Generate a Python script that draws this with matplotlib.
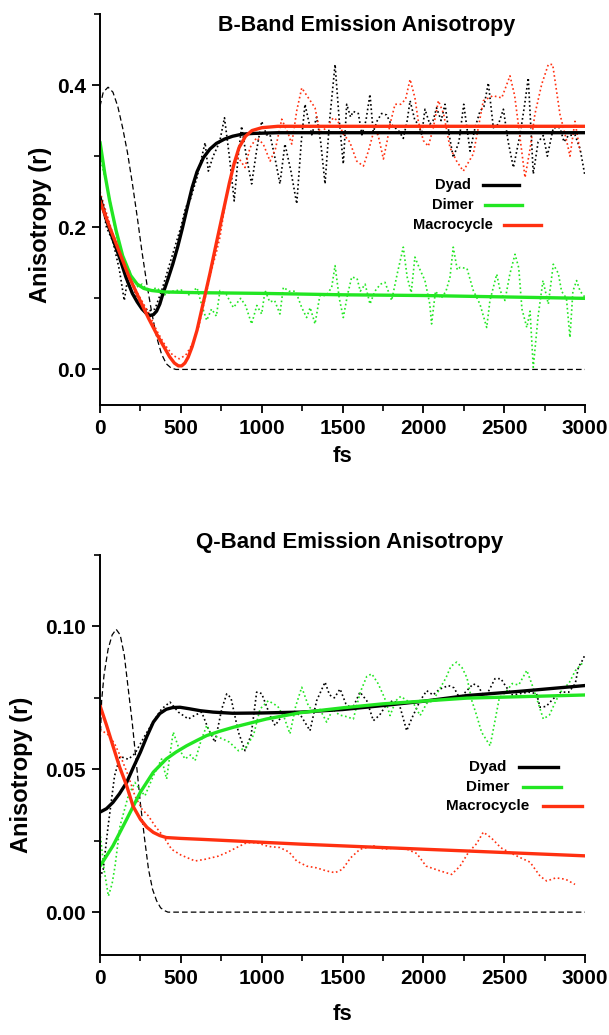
import matplotlib
matplotlib.use('Agg')
import matplotlib.pyplot as plt
from matplotlib.ticker import MultipleLocator, FormatStrFormatter

plt.rcParams['font.family'] = ['Liberation Sans', 'DejaVu Sans']
plt.rcParams['font.weight'] = 'bold'

BLACK, GREEN, RED = '#000000', '#22e622', '#ff3010'

# ---------------- B-band (top) ----------------
b_irf_t = [0, 20, 50, 80, 110, 140, 170, 200, 230, 260, 290, 320, 350, 380, 410, 440, 470, 500, 3000]
b_irf_v = [0.37, 0.39, 0.397, 0.39, 0.37, 0.34, 0.305, 0.262, 0.215, 0.165, 0.12, 0.08, 0.046,
           0.022, 0.008, 0.002, 0.0, 0.0, 0.0]

b_dyad_fit_t = [0, 40, 80, 120, 160, 200, 230, 260, 290, 310, 330, 350, 370, 390, 420, 450, 480,
                510, 540, 570, 600, 640, 680, 720, 770, 820, 880, 950, 1100, 3000]
b_dyad_fit_v = [0.242, 0.21, 0.183, 0.158, 0.13, 0.107, 0.095, 0.085, 0.078, 0.076, 0.077, 0.082,
                0.092, 0.107, 0.127, 0.148, 0.172, 0.199, 0.228, 0.256, 0.278, 0.298, 0.31, 0.318,
                0.324, 0.328, 0.331, 0.332, 0.333, 0.333]

b_dimer_fit_t = [0, 30, 60, 100, 140, 190, 230, 270, 320, 400, 600, 1000, 1500, 2000, 2500, 3000]
b_dimer_fit_v = [0.32, 0.275, 0.237, 0.195, 0.16, 0.132, 0.12, 0.114, 0.111, 0.109, 0.108, 0.107,
                 0.105, 0.104, 0.102, 0.1]

b_macro_fit_t = [0, 60, 120, 180, 250, 300, 350, 400, 430, 460, 485, 505, 525, 545, 570, 600, 640,
                 680, 720, 760, 800, 830, 860, 900, 940, 1000, 1100, 3000]
b_macro_fit_v = [0.237, 0.2, 0.165, 0.13, 0.096, 0.072, 0.05, 0.03, 0.018, 0.009, 0.005, 0.005,
                 0.009, 0.017, 0.032, 0.055, 0.095, 0.135, 0.178, 0.22, 0.262, 0.29, 0.312, 0.328,
                 0.336, 0.34, 0.342, 0.342]

b_dyad_t = [0, 40, 80, 120, 150, 180, 220, 260, 300, 340, 380, 420, 460, 500, 530, 560, 600, 650,
            670, 700, 740, 770, 800, 830, 855, 876, 905, 938, 970, 1000, 1030, 1052, 1080, 1113,
            1144, 1180, 1217, 1245, 1268, 1290, 1310, 1340, 1365, 1392, 1420, 1454, 1480, 1505,
            1526, 1550, 1566, 1598, 1620, 1645, 1670, 1690, 1715, 1742, 1773, 1800, 1825, 1850,
            1876, 1900, 1918, 1948, 1970, 1990, 2010, 2040, 2060, 2082, 2110, 2134, 2160, 2185,
            2220, 2250, 2289, 2320, 2350, 2375, 2402, 2433, 2465, 2495, 2525, 2557, 2598, 2625,
            2649, 2680, 2710, 2742, 2767, 2804, 2845, 2870, 2897, 2938, 2970, 3000]
b_dyad_v = [0.25, 0.2, 0.18, 0.14, 0.097, 0.14, 0.105, 0.09, 0.082, 0.085, 0.11, 0.14, 0.17, 0.2,
            0.228, 0.24, 0.27, 0.319, 0.279, 0.30, 0.32, 0.354, 0.3, 0.237, 0.3, 0.342, 0.3, 0.261,
            0.31, 0.349, 0.33, 0.33, 0.3, 0.261, 0.317, 0.28, 0.233, 0.32, 0.373, 0.35, 0.33,
            0.355, 0.32, 0.261, 0.35, 0.429, 0.35, 0.289, 0.373, 0.355, 0.363, 0.36, 0.33, 0.35,
            0.387, 0.334, 0.35, 0.36, 0.358, 0.345, 0.34, 0.335, 0.325, 0.35, 0.378, 0.35, 0.345,
            0.33, 0.366, 0.345, 0.35, 0.368, 0.35, 0.373, 0.33, 0.298, 0.32, 0.373, 0.307, 0.34,
            0.363, 0.37, 0.403, 0.34, 0.345, 0.366, 0.32, 0.284, 0.33, 0.37, 0.41, 0.275, 0.32,
            0.329, 0.3, 0.34, 0.34, 0.32, 0.329, 0.33, 0.31, 0.272]

b_macro_t = [0, 40, 80, 120, 160, 200, 250, 300, 350, 400, 450, 490, 530, 570, 610, 650, 690, 720,
             742, 784, 825, 856, 897, 928, 969, 1010, 1052, 1085, 1124, 1165, 1186, 1217, 1248,
             1280, 1330, 1361, 1400, 1443, 1470, 1505, 1545, 1588, 1629, 1660, 1691, 1720, 1753,
             1775, 1794, 1825, 1860, 1890, 1918, 1948, 1969, 2000, 2031, 2062, 2093, 2125, 2165,
             2206, 2247, 2309, 2340, 2371, 2430, 2485, 2536, 2565, 2598, 2629, 2660, 2690, 2732,
             2773, 2800, 2845, 2887, 2907, 2938, 2969]
b_macro_v = [0.25, 0.22, 0.19, 0.17, 0.145, 0.12, 0.1, 0.08, 0.055, 0.035, 0.02, 0.015, 0.02,
             0.035, 0.06, 0.1, 0.14, 0.165, 0.186, 0.247, 0.284, 0.298, 0.284, 0.312, 0.326, 0.317,
             0.293, 0.31, 0.352, 0.331, 0.317, 0.364, 0.396, 0.385, 0.368, 0.333, 0.34, 0.354,
             0.35, 0.331, 0.32, 0.293, 0.286, 0.307, 0.333, 0.33, 0.296, 0.32, 0.345, 0.373,
             0.373, 0.38, 0.408, 0.382, 0.349, 0.322, 0.314, 0.34, 0.378, 0.36, 0.312, 0.293,
             0.279, 0.303, 0.34, 0.378, 0.385, 0.382, 0.413, 0.385, 0.326, 0.27, 0.31, 0.359,
             0.401, 0.429, 0.429, 0.359, 0.321, 0.3, 0.349, 0.307]

b_dimer_t = [0, 30, 60, 100, 140, 180, 220, 260, 300, 350, 400, 450, 500, 550, 600, 630, 660, 690,
             720, 742, 780, 825, 870, 900, 938, 970, 1000, 1021, 1050, 1080, 1113, 1134, 1170,
             1210, 1248, 1278, 1300, 1330, 1360, 1400, 1433, 1454, 1480, 1505, 1530, 1557, 1590,
             1610, 1640, 1670, 1700, 1735, 1763, 1804, 1840, 1876, 1900, 1925, 1948, 1980, 2010,
             2040, 2051, 2075, 2110, 2140, 2165, 2185, 2210, 2227, 2270, 2309, 2350, 2392, 2412,
             2454, 2475, 2505, 2535, 2567, 2590, 2610, 2640, 2660, 2680, 2710, 2740, 2773, 2804,
             2835, 2855, 2885, 2907, 2925, 2948, 2970, 3000]
b_dimer_v = [0.3, 0.27, 0.24, 0.19, 0.155, 0.128, 0.115, 0.12, 0.11, 0.115, 0.105, 0.11, 0.112,
             0.105, 0.115, 0.09, 0.069, 0.085, 0.075, 0.111, 0.106, 0.087, 0.1, 0.09, 0.064, 0.09,
             0.078, 0.111, 0.095, 0.097, 0.078, 0.1155, 0.11, 0.11, 0.087, 0.073, 0.087, 0.064,
             0.104, 0.104, 0.1155, 0.146, 0.1, 0.073, 0.104, 0.13, 0.128, 0.11, 0.12, 0.092, 0.11,
             0.12, 0.1225, 0.097, 0.136, 0.172, 0.13, 0.108, 0.158, 0.14, 0.125, 0.092, 0.064,
             0.11, 0.1, 0.11, 0.13, 0.172, 0.14, 0.1436, 0.142, 0.111, 0.092, 0.059, 0.097, 0.134,
             0.111, 0.097, 0.134, 0.162, 0.143, 0.085, 0.059, 0.082, 0.003, 0.075, 0.125, 0.092,
             0.148, 0.135, 0.11, 0.1, 0.045, 0.11, 0.125, 0.11, 0.1015]

# ---------------- Q-band (bottom) ----------------
q_irf_t = [0, 10, 25, 50, 75, 100, 125, 150, 175, 200, 225, 250, 275, 300, 325, 350, 375, 400, 420, 3000]
q_irf_v = [0.057, 0.074, 0.083, 0.092, 0.097, 0.099, 0.097, 0.09, 0.078, 0.066, 0.052, 0.038,
           0.026, 0.015, 0.008, 0.004, 0.0015, 0.0005, 0.0, 0.0]

q_dyad_fit_t = [0, 40, 80, 120, 165, 205, 250, 290, 330, 370, 410, 450, 495, 550, 620, 700, 820,
                1000, 1240, 1500, 1750, 2000, 2270, 2600, 3000]
q_dyad_fit_v = [0.035, 0.0362, 0.0384, 0.0414, 0.0454, 0.0505, 0.056, 0.0615, 0.0665, 0.0695,
                0.071, 0.0716, 0.0717, 0.0712, 0.0705, 0.07, 0.0696, 0.0697, 0.07, 0.0709, 0.0723,
                0.0738, 0.0758, 0.0773, 0.0793]

q_dimer_fit_t = [0, 80, 165, 250, 330, 410, 470, 535, 600, 660, 740, 825, 1030, 1240, 1500, 1750,
                 2270, 3000]
q_dimer_fit_v = [0.0161, 0.0232, 0.0325, 0.042, 0.049, 0.0536, 0.056, 0.0582, 0.0601, 0.0618,
                 0.0633, 0.0647, 0.0676, 0.0698, 0.0715, 0.0729, 0.0749, 0.076]

q_macro_fit_t = [0, 40, 80, 120, 165, 205, 250, 290, 330, 370, 410, 500, 620, 1240, 1750, 2270, 3000]
q_macro_fit_v = [0.0723, 0.0655, 0.0582, 0.051, 0.0442, 0.037, 0.0325, 0.0297, 0.0279, 0.0268,
                 0.0261, 0.0258, 0.0255, 0.0238, 0.0226, 0.0214, 0.0197]

q_dyad_t = [0, 20, 50, 90, 124, 175, 216, 278, 340, 381, 433, 485, 546, 590, 629, 670, 711, 753,
            784, 810, 856, 897, 935, 969, 1000, 1052, 1083, 1130, 1180, 1240, 1299, 1340, 1392,
            1420, 1450, 1485, 1520, 1560, 1608, 1650, 1691, 1730, 1770, 1810, 1850, 1897, 1930,
            1980, 2021, 2060, 2100, 2155, 2190, 2227, 2260, 2309, 2340, 2380, 2410, 2443, 2480,
            2510, 2550, 2600, 2650, 2700, 2722, 2760, 2800, 2850, 2900, 2940, 2959, 2990, 3000]
q_dyad_v = [0.012, 0.015, 0.03, 0.0477, 0.0545, 0.0535, 0.0555, 0.0618, 0.0676, 0.0711, 0.0735,
            0.07, 0.0676, 0.069, 0.07, 0.0641, 0.0595, 0.0711, 0.0764, 0.075, 0.063, 0.0565,
            0.062, 0.077, 0.0765, 0.0688, 0.0653, 0.069, 0.07, 0.069, 0.0635, 0.074, 0.0805,
            0.076, 0.075, 0.0781, 0.073, 0.071, 0.077, 0.074, 0.067, 0.069, 0.0725, 0.074, 0.073,
            0.0635, 0.068, 0.074, 0.0775, 0.076, 0.078, 0.0793, 0.0785, 0.0746, 0.077, 0.0799,
            0.079, 0.075, 0.078, 0.0817, 0.0817, 0.079, 0.076, 0.0765, 0.077, 0.0765, 0.0717,
            0.072, 0.0745, 0.077, 0.077, 0.08, 0.0857, 0.0887, 0.0904]

q_dimer_t = [0, 25, 52, 75, 93, 124, 175, 216, 245, 278, 330, 381, 412, 440, 453, 490, 526, 560,
             588, 625, 660, 690, 732, 760, 800, 856, 900, 950, 990, 1041, 1100, 1140, 1175, 1210,
             1248, 1290, 1330, 1360, 1402, 1440, 1480, 1520, 1567, 1610, 1650, 1681, 1720, 1760,
             1794, 1830, 1860, 1900, 1940, 1980, 2020, 2060, 2100, 2140, 2170, 2206, 2240, 2270,
             2300, 2330, 2360, 2413, 2440, 2470, 2510, 2550, 2590, 2640, 2670, 2700, 2742, 2780,
             2820, 2860, 2900, 2940, 2990]
q_dimer_v = [0.028, 0.015, 0.0056, 0.01, 0.0161, 0.0302, 0.0407, 0.0454, 0.043, 0.0407, 0.0477,
             0.0536, 0.0466, 0.058, 0.063, 0.057, 0.0536, 0.055, 0.053, 0.06, 0.0653, 0.062,
             0.0612, 0.0606, 0.0595, 0.0565, 0.0575, 0.062, 0.0711, 0.074, 0.072, 0.068, 0.0624,
             0.072, 0.0787, 0.072, 0.07, 0.071, 0.0665, 0.071, 0.069, 0.0685, 0.0676, 0.077,
             0.0825, 0.0834, 0.08, 0.075, 0.0688, 0.074, 0.0755, 0.074, 0.073, 0.0688, 0.073,
             0.074, 0.078, 0.082, 0.086, 0.0875, 0.0855, 0.082, 0.074, 0.0688, 0.063, 0.0582,
             0.066, 0.075, 0.077, 0.08, 0.0795, 0.0846, 0.08, 0.075, 0.0676, 0.069, 0.074, 0.078,
             0.08, 0.0845, 0.0875]

q_macro_t = [0, 52, 90, 134, 175, 216, 260, 299, 340, 392, 443, 500, 588, 650, 732, 790, 845, 907,
             969, 1040, 1113, 1170, 1216, 1278, 1340, 1402, 1454, 1500, 1550, 1608, 1691, 1760,
             1820, 1900, 1960, 2017, 2100, 2175, 2227, 2280, 2330, 2371, 2420, 2480, 2530, 2598,
             2660, 2722, 2763, 2820, 2880, 2938]
q_macro_v = [0.064, 0.062, 0.059, 0.0536, 0.0477, 0.0407, 0.036, 0.0337, 0.0302, 0.0265, 0.022,
             0.02, 0.0179, 0.0185, 0.0196, 0.021, 0.0226, 0.0243, 0.0243, 0.023, 0.0226, 0.021,
             0.0179, 0.0161, 0.0155, 0.0144, 0.0138, 0.015, 0.019, 0.022, 0.0232, 0.022, 0.0225,
             0.022, 0.0205, 0.0161, 0.0145, 0.0132, 0.0161, 0.021, 0.024, 0.028, 0.026, 0.0225,
             0.021, 0.0191, 0.0175, 0.0126, 0.0109, 0.012, 0.0115, 0.0097]

LEG_NAMES = ['Dyad', 'Dimer', 'Macrocycle']
LEG_COLORS = [BLACK, GREEN, RED]

DOT = (0, (1, 1.6))
DASH = (0, (4.5, 2.5))


def style_axes(ax, ylim, ymaj, ymin, yfmt):
    ax.set_xlim(0, 3000)
    ax.set_ylim(*ylim)
    ax.xaxis.set_major_locator(MultipleLocator(500))
    ax.xaxis.set_minor_locator(MultipleLocator(250))
    ax.yaxis.set_major_locator(MultipleLocator(ymaj))
    ax.yaxis.set_minor_locator(MultipleLocator(ymin))
    ax.yaxis.set_major_formatter(FormatStrFormatter(yfmt))
    for s in ['top', 'right']:
        ax.spines[s].set_visible(False)
    for s in ['left', 'bottom']:
        ax.spines[s].set_linewidth(1.4)
    ax.tick_params(which='major', length=6, width=1.3, labelsize=15, pad=4)
    ax.tick_params(which='minor', length=4, width=1.2)
    for lab in ax.get_xticklabels() + ax.get_yticklabels():
        lab.set_fontweight('bold')
    ax.set_xlabel('fs', fontsize=16, fontweight='bold')
    ax.set_ylabel('Anisotropy (r)', fontsize=17, fontweight='bold')


def draw_panel(ax, irf, fits, raws):
    ax.plot(irf[0], irf[1], color=BLACK, lw=0.9, linestyle=DASH)
    for (t, v), c in zip(raws, LEG_COLORS):
        ax.plot(t, v, color=c, lw=1.2, linestyle=DOT)
    for (t, v), c in zip(fits, LEG_COLORS):
        ax.plot(t, v, color=c, lw=2.4, solid_capstyle='round', solid_joinstyle='round')


def draw_legend(ax, xc, rows, fs):
    for (y, x0, x1), name, c in zip(rows, LEG_NAMES, LEG_COLORS):
        ax.text(xc, y, name, transform=ax.transAxes, ha='center', va='center',
                fontsize=fs, fontweight='bold')
        ax.plot([x0, x1], [y, y], transform=ax.transAxes, color=c, lw=2.4, clip_on=False)


fig = plt.figure(figsize=(6.09, 10.35), dpi=100)
ax1 = fig.add_axes([0.1642, 0.6087, 0.7964, 0.3778])
ax2 = fig.add_axes([0.1642, 0.0773, 0.7964, 0.3865])

# top panel
draw_panel(ax1, (b_irf_t, b_irf_v),
           [(b_dyad_fit_t, b_dyad_fit_v), (b_dimer_fit_t, b_dimer_fit_v), (b_macro_fit_t, b_macro_fit_v)],
           [(b_dyad_t, b_dyad_v), (b_dimer_t, b_dimer_v), (b_macro_t, b_macro_v)])
style_axes(ax1, (-0.05, 0.5), 0.2, 0.1, '%.1f')
ax1.yaxis.set_label_coords(-0.099, 0.46)
ax1.xaxis.set_label_coords(0.5, -0.105)
draw_legend(ax1, 0.728, [(0.5627, 0.790, 0.864), (0.5115, 0.794, 0.870), (0.4604, 0.833, 0.909)], 10.5)

# bottom panel
draw_panel(ax2, (q_irf_t, q_irf_v),
           [(q_dyad_fit_t, q_dyad_fit_v), (q_dimer_fit_t, q_dimer_fit_v), (q_macro_fit_t, q_macro_fit_v)],
           [(q_dyad_t, q_dyad_v), (q_dimer_t, q_dimer_v), (q_macro_t, q_macro_v)])
style_axes(ax2, (-0.015, 0.125), 0.05, 0.025, '%.2f')
ax2.yaxis.set_label_coords(-0.138, 0.45)
ax2.xaxis.set_label_coords(0.5, -0.1225)
draw_legend(ax2, 0.8, [(0.47, 0.864, 0.944), (0.42, 0.872, 0.951), (0.3725, 0.913, 0.994)], 11)

fig.text(0.6026, 0.9758, 'B-Band Emission Anisotropy', ha='center', va='center',
         fontsize=15.5, fontweight='bold')
fig.text(0.5747, 0.4754, 'Q-Band Emission Anisotropy', ha='center', va='center',
         fontsize=16, fontweight='bold')

plt.savefig('out.png', dpi=100)
plt.close()
